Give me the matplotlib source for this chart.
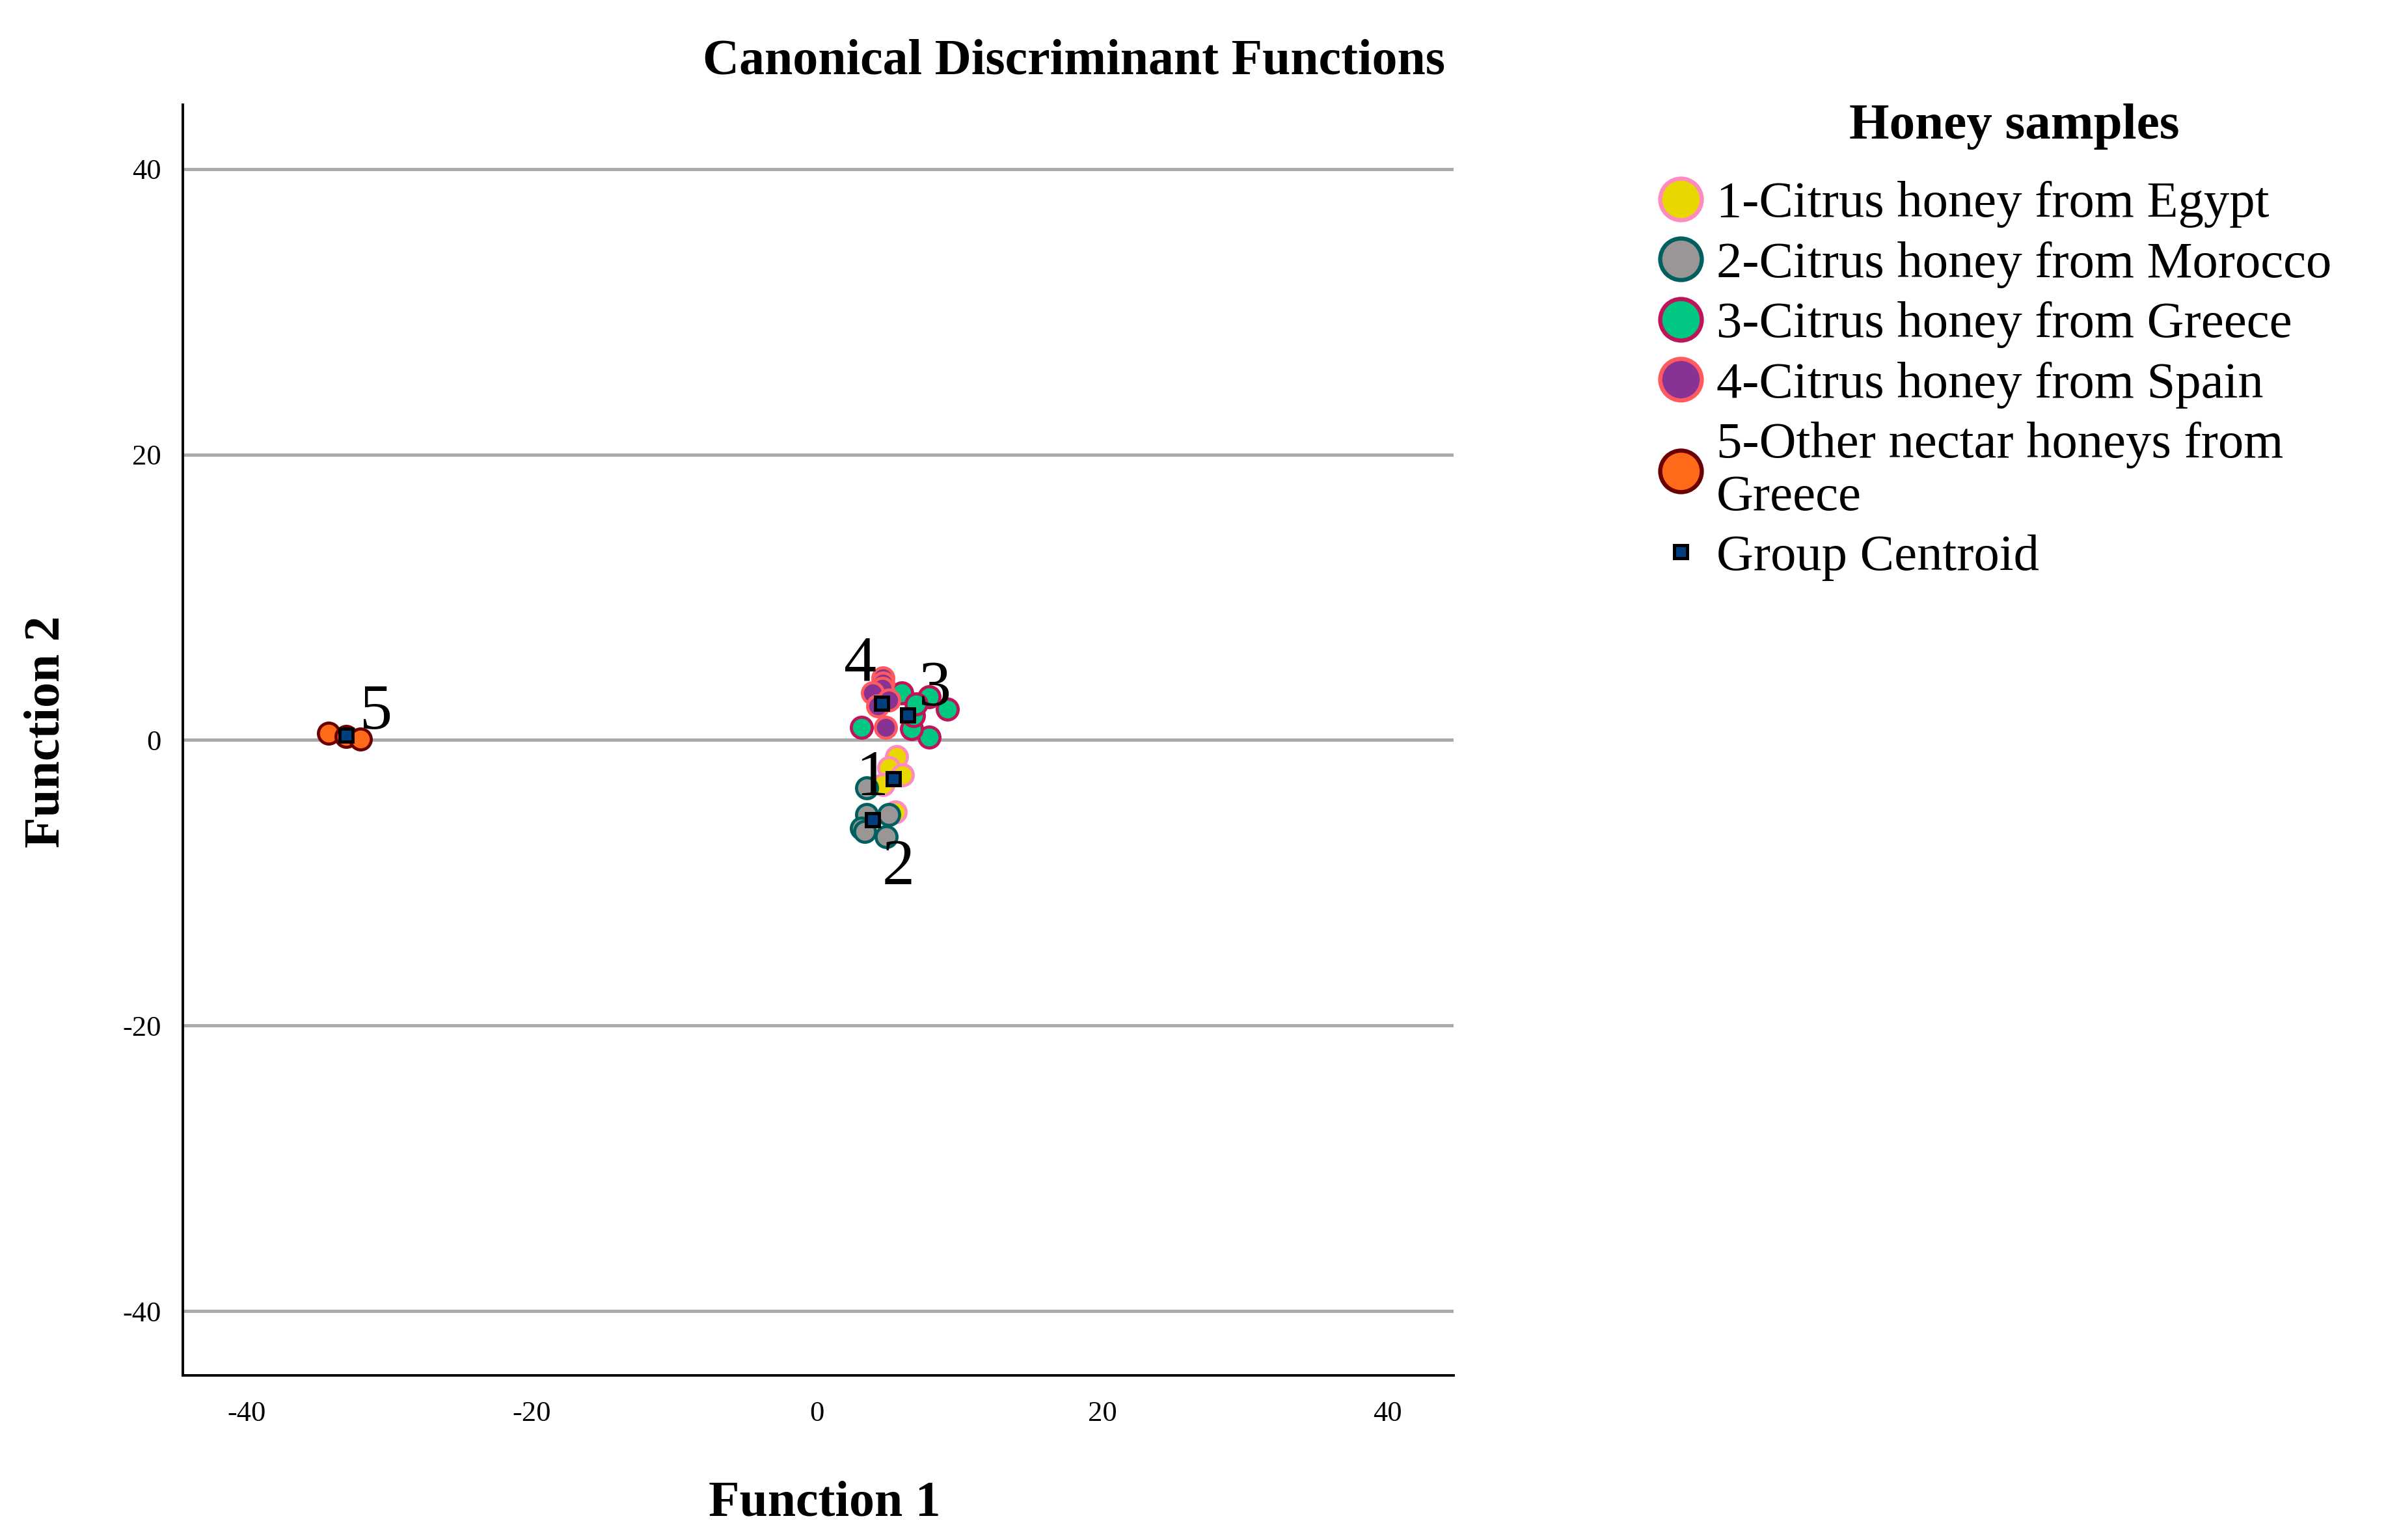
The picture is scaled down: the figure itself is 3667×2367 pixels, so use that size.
import matplotlib
matplotlib.use("Agg")
import matplotlib.pyplot as plt
from matplotlib.lines import Line2D

plt.rcParams['font.family'] = ['Liberation Serif', 'DejaVu Serif']

# ---------------- data ----------------
group_names = ["1-Citrus honey from Egypt",
               "2-Citrus honey from Morocco",
               "3-Citrus honey from Greece",
               "4-Citrus honey from Spain",
               "5-Other nectar honeys from\nGreece"]
group_ids = ["1", "2", "3", "4", "5"]

g1_x = [5.56, 5.02, 6.01, 4.64, 5.48]
g1_y = [-1.17, -1.93, -2.46, -3.14, -5.04]

g2_x = [3.50, 3.50, 5.02, 3.12, 3.35, 4.87]
g2_y = [-3.37, -5.20, -5.20, -6.18, -6.41, -6.79]

g3_x = [3.12, 5.94, 7.84, 9.13, 7.84, 6.62, 6.76, 6.93]
g3_y = [0.88, 3.31, 3.01, 2.17, 0.20, 0.81, 1.72, 2.55]

g4_x = [4.64, 4.64, 4.57, 3.88, 4.26, 5.02, 4.79]
g4_y = [4.33, 4.00, 3.62, 3.31, 2.40, 2.78, 0.88]

g5_x = [-34.25, -33.03, -32.04]
g5_y = [0.47, 0.27, 0.05]

centroid_x = [5.33, 3.88, 6.35, 4.52, -33.03]
centroid_y = [-2.73, -5.57, 1.76, 2.58, 0.32]

label_x = [3.84, 5.68, 8.26, 3.02, -30.96]
label_y = [-2.75, -8.95, 3.54, 5.30, 1.94]

x_ticks = [-40, -20, 0, 20, 40]
y_ticks = [-40, -20, 0, 20, 40]

face_colors = ["#E8D800", "#9A9696", "#00C882", "#883393", "#FF6A1A"]
edge_colors = ["#FF8AC0", "#006060", "#C0145A", "#FF5A5F", "#6A0000"]
centroid_face = "#003F7F"

# ---------------- figure ----------------
fig = plt.figure(figsize=(18.335, 11.835), dpi=200)
ax = fig.add_axes([0.0766, 0.1069, 0.5326, 0.8251])

xs = [g1_x, g2_x, g3_x, g4_x, g5_x]
ys = [g1_y, g2_y, g3_y, g4_y, g5_y]

ax.set_xlim(-44.5, 44.65)
ax.set_ylim(-44.5, 44.5)
ax.set_yticks(y_ticks)
ax.set_xticks(x_ticks)
ax.yaxis.grid(True, color="#AAAAAA", linewidth=1.8)
ax.xaxis.grid(False)
ax.set_axisbelow(True)

for gx, gy, fc, ec in zip(xs, ys, face_colors, edge_colors):
    ax.plot(gx, gy, linestyle="none", marker="o", markersize=11.6,
            markerfacecolor=fc, markeredgecolor=ec, markeredgewidth=1.7, zorder=3)

ax.plot(centroid_x, centroid_y, linestyle="none", marker="s", markersize=7.2,
        markerfacecolor=centroid_face, markeredgecolor="black",
        markeredgewidth=1.8, zorder=4)

for lx, ly, t in zip(label_x, label_y, group_ids):
    ax.text(lx, ly, t, fontsize=36, ha="center", va="center", zorder=5)

for s in ["top", "right"]:
    ax.spines[s].set_visible(False)
for s in ["left", "bottom"]:
    ax.spines[s].set_linewidth(1.4)
    ax.spines[s].set_color("black")

ax.tick_params(axis="both", length=0, labelsize=16)
ax.tick_params(axis="x", pad=14)
ax.tick_params(axis="y", pad=12)
ax.set_xticklabels([str(v) for v in x_ticks])
ax.set_yticklabels([str(v) for v in y_ticks])

fig.text(0.4502, 0.9600, "Canonical Discriminant Functions", fontsize=28,
         fontweight="bold", ha="center", va="center")
fig.text(0.3455, 0.0238, "Function 1", fontsize=28, fontweight="bold",
         ha="center", va="center")
fig.text(0.0195, 0.525, "Function 2", fontsize=28, fontweight="bold",
         ha="center", va="center", rotation=90)

# ---------------- legend ----------------
fig.text(0.8443, 0.9180, "Honey samples", fontsize=28.5, fontweight="bold",
         ha="center", va="center")

handles = []
for fc, ec in zip(face_colors, edge_colors):
    handles.append(Line2D([], [], linestyle="none", marker="o", markersize=23,
                          markerfacecolor=fc, markeredgecolor=ec,
                          markeredgewidth=2.3))
handles.append(Line2D([], [], linestyle="none", marker="s", markersize=7.2,
                      markerfacecolor=centroid_face, markeredgecolor="black",
                      markeredgewidth=1.8))
labels = group_names + ["Group Centroid"]

leg = fig.legend(handles, labels, loc="upper left",
                 bbox_to_anchor=(0.684, 0.899), frameon=False,
                 fontsize=28.3,
                 handlelength=0.9, handletextpad=0.25, labelspacing=0.26,
                 borderpad=0.0)
for t in leg.get_texts():
    t.set_linespacing(1.16)

fig.savefig("out.png", dpi=200)
